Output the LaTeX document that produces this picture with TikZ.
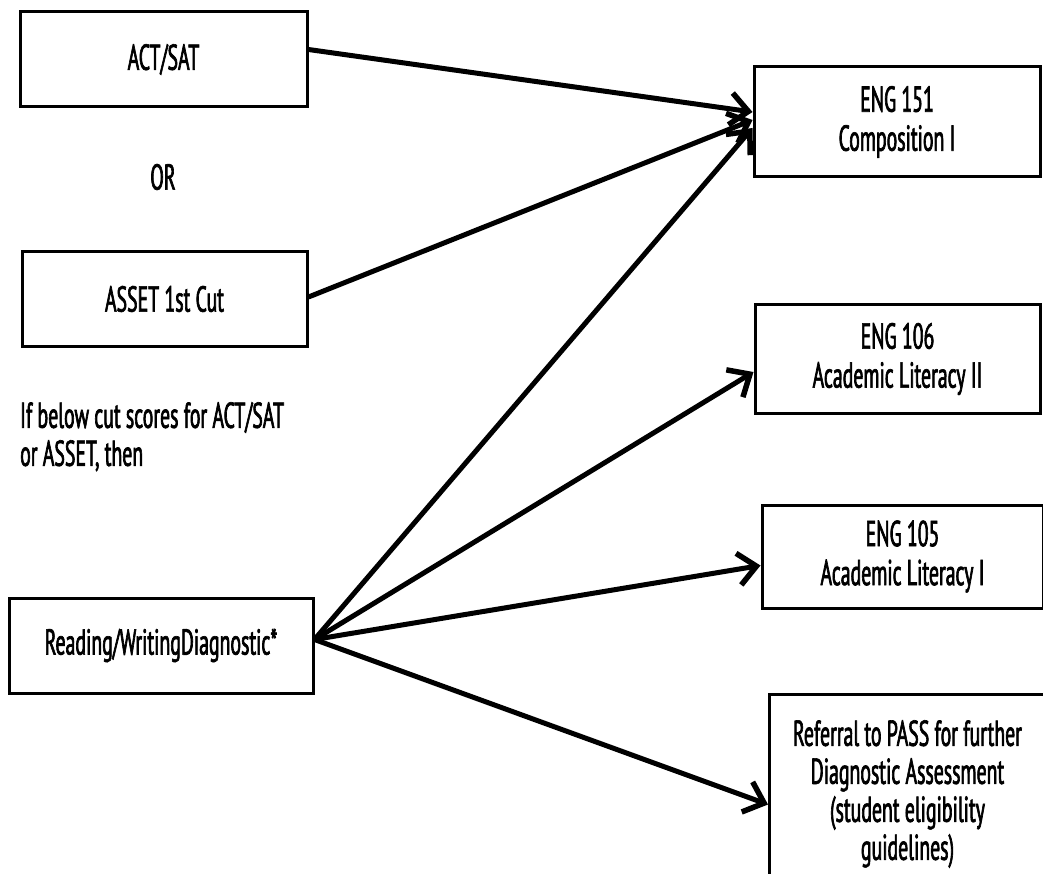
\documentclass[tikz,border=0pt]{standalone}
\usepackage{fontspec}
\setmainfont[FakeStretch=0.55, FakeBold=1.8]{PT Sans}
\usetikzlibrary{arrows.meta}

\tikzset{
  box/.style={draw=black, line width=3pt, minimum width=#1, inner sep=0pt, align=center,
    font=\fontsize{36}{39}\selectfont},
  lbl/.style={inner sep=0pt, font=\fontsize{36}{38}\selectfont},
  link/.style={line width=5pt, -{Straight Barb[length=18pt, width=32pt, line width=5.5pt]}}
}

\begin{document}
\begin{tikzpicture}[x=1pt, y=-1pt]
  \useasboundingbox (0,0) rectangle (1043,874);

  % left column
  \node[box=287pt, minimum height=95pt]  (act)   at (163.5,59.5) {ACT/SAT};
  \node[lbl] (or) at (163,177) {OR};
  \node[box=285pt, minimum height=94pt]  (asset) at (164.5,299) {ASSET 1st Cut};
  \node[lbl, anchor=north west, align=left] (cut) at (20,402) {If below cut scores for ACT/SAT\\or ASSET, then};
  \node[box=304pt, minimum height=95pt]  (diag)  at (161,645.5) {Reading/WritingDiagnostic*};

  % right column
  \node[box=286pt, minimum height=110pt] (e151)  at (897,122) {ENG 151\\Composition I};
  \node[box=285pt, minimum height=108pt] (e106)  at (897.5,359) {ENG 106\\Academic Literacy II};
  \node[box=281pt, minimum height=103pt] (e105)  at (902.5,556.5) {ENG 105\\Academic Literacy I};
  \node[box=276pt, minimum height=200pt, anchor=north west] (pass) at (768,693) {};
  \node[lbl, align=center, anchor=north] (passtxt)
    at ([yshift=-27pt]pass.north) {Referral to PASS for further\\Diagnostic Assessment\\(student eligibility\\guidelines)};

  % arrows
  \draw[link] ([yshift=10pt]act.east)   -- ([yshift=10pt]e151.west);
  \draw[link] ([yshift=2pt]asset.east)  -- ([yshift=2pt]e151.west);
  \draw[link] ([yshift=6pt]diag.east)   -- ([yshift=-6pt]e151.west);
  \draw[link] ([yshift=6pt]diag.east)   -- ([yshift=-13pt]e106.west);
  \draw[link] ([yshift=6pt]diag.east)   -- ([yshift=-9pt]e105.west);
  \draw[link] ([yshift=6pt]diag.east)   -- ([yshift=-10pt]pass.west);
\end{tikzpicture}
\end{document}
